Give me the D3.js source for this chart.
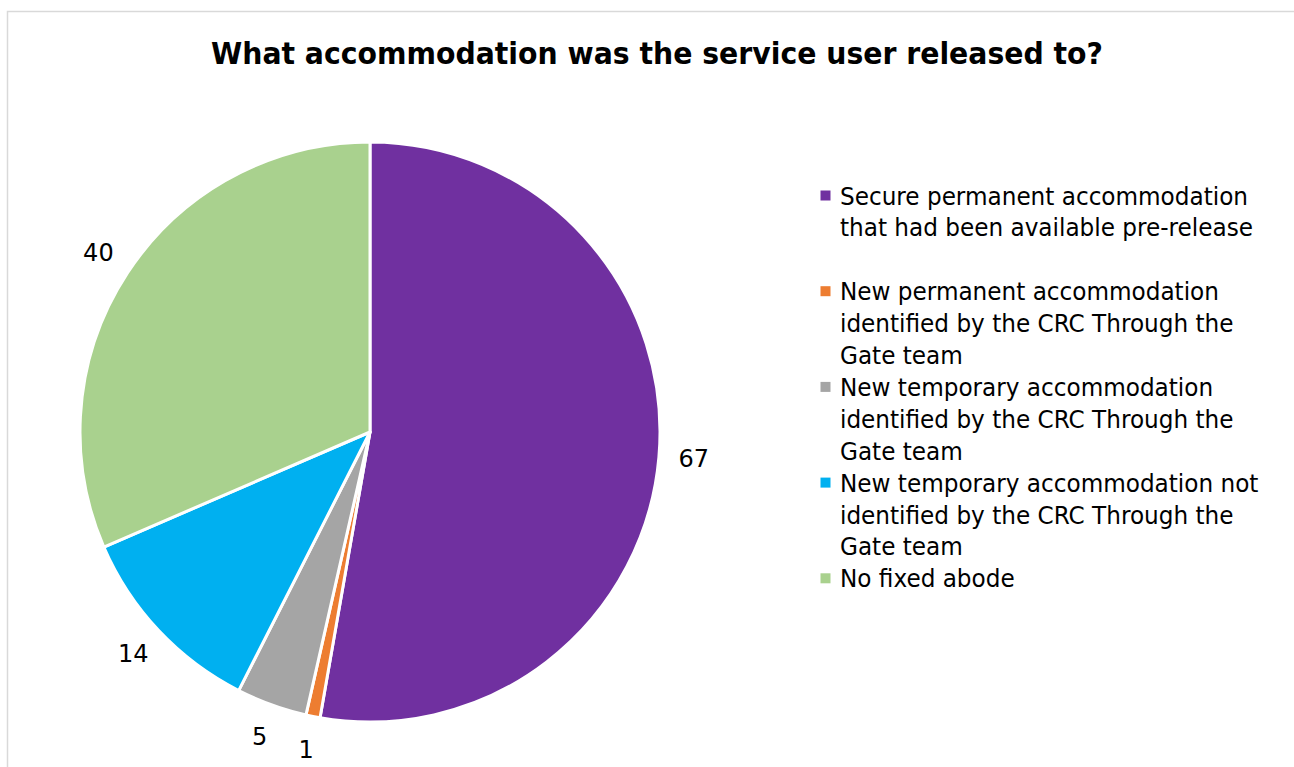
<!DOCTYPE html>
<html>
<head>
<meta charset="utf-8">
<script src="https://cdn.jsdelivr.net/npm/d3@7"></script>
<style>
  html, body { margin: 0; padding: 0; background: #fff; }
  svg { display: block; }
  text { font-family: Tahoma, "DejaVu Sans", Verdana, sans-serif; fill: #000; }
</style>
</head>
<body>
<svg id="chart" width="1294" height="767"></svg>
<script>
const title = "What accommodation was the service user released to?";
const categories = [
  "Secure permanent accommodation that had been available pre-release",
  "New permanent accommodation identified by the CRC Through the Gate team",
  "New temporary accommodation identified by the CRC Through the Gate team",
  "New temporary accommodation not identified by the CRC Through the Gate team",
  "No fixed abode"
];
const legendLines = [
  ["Secure permanent accommodation", "that had been available pre-release", ""],
  ["New permanent accommodation", "identified by the CRC Through the", "Gate team"],
  ["New temporary accommodation", "identified by the CRC Through the", "Gate team"],
  ["New temporary accommodation not", "identified by the CRC Through the", "Gate team"],
  ["No fixed abode"]
];
const values = [67, 1, 5, 14, 40];
const colors = ["#7030A0", "#ED7D31", "#A5A5A5", "#00B0F0", "#A9D18E"];

const svg = d3.select("#chart");

// chart area border (top and left visible)
svg.append("path")
  .attr("d", "M7.5,800 L7.5,11.5 L1300,11.5")
  .attr("fill", "none").attr("stroke", "#d9d9d9").attr("stroke-width", 1.5);

// title
const t = svg.append("text")
  .attr("x", 657).attr("y", 64)
  .attr("text-anchor", "middle")
  .attr("font-weight", "bold")
  .attr("font-size", 31)
  .text(title);
const tw = t.node().getComputedTextLength();
if (tw > 0) t.attr("textLength", 892).attr("lengthAdjust", "spacingAndGlyphs");

// pie
const cx = 370, cy = 432, r = 290;
const pie = d3.pie().sort(null).value(d => d)
  .startAngle(0).endAngle(2 * Math.PI);
const arcs = pie(values);
const arc = d3.arc().innerRadius(0).outerRadius(r);
const labelArc = d3.arc().innerRadius(325).outerRadius(325);

const g = svg.append("g").attr("transform", `translate(${cx},${cy})`);
g.selectAll("path.slice").data(arcs).join("path")
  .attr("class", "slice")
  .attr("d", arc)
  .attr("fill", (d, i) => colors[i])
  .attr("stroke", "#fff")
  .attr("stroke-width", 3)
  .attr("stroke-linejoin", "round");

g.selectAll("text.lbl").data(arcs).join("text")
  .attr("class", "lbl")
  .attr("transform", d => { const c = labelArc.centroid(d); return `translate(${c[0]},${c[1]})`; })
  .attr("text-anchor", "middle")
  .attr("dy", "0.3em")
  .attr("font-size", 24)
  .text(d => d.data);

// legend
const lineH = 31.9;
const baseY = 196;
const legend = svg.append("g");
let k = 0;
const fs = 24;
const probe = legend.append("text").attr("font-size", fs).text(legendLines[0][0]);
const pw = probe.node().getComputedTextLength();
probe.remove();
const ratio = pw > 0 ? 408 / pw : 1;

legendLines.forEach((lines, i) => {
  const yc = baseY + k * lineH;
  legend.append("rect")
    .attr("x", 820.5).attr("y", yc - 5.5)
    .attr("width", 10).attr("height", 10)
    .attr("fill", colors[i]);
  lines.forEach((ln, j) => {
    if (!ln) return;
    const tx = legend.append("text")
      .attr("x", 840).attr("y", yc + j * lineH + 8.5)
      .attr("font-size", fs)
      .text(ln);
    const w = tx.node().getComputedTextLength();
    if (w > 0) tx.attr("textLength", w * ratio).attr("lengthAdjust", "spacingAndGlyphs");
  });
  k += 3;
});
</script>
</body>
</html>
